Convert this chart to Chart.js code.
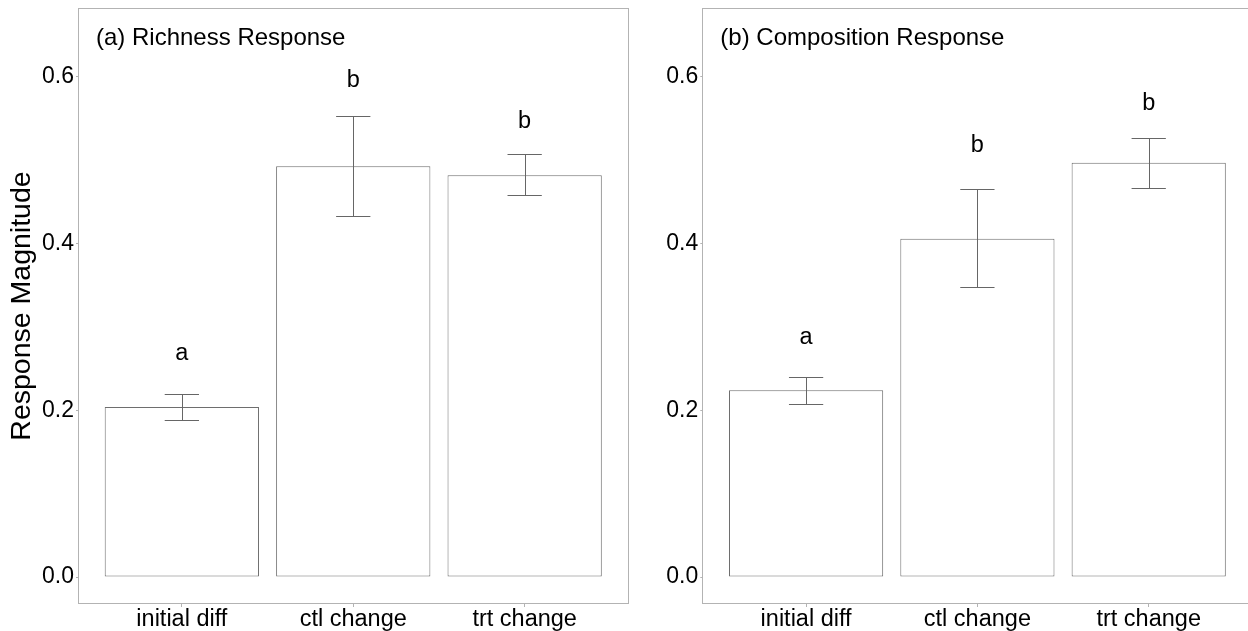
<!DOCTYPE html>
<html>
<head>
<meta charset="utf-8">
<script src="https://cdn.jsdelivr.net/npm/chart.js@4/dist/chart.umd.min.js"></script>
<style>
  html, body { margin: 0; padding: 0; background: #fff; overflow: hidden; width: 1248px; height: 631px; }
  canvas { position: absolute; top: 0; }
  #c1 { left: 0; }
  #c2 { left: 640px; }
</style>
</head>
<body>
<canvas id="c1" width="640" height="631"></canvas>
<canvas id="c2" width="620" height="631"></canvas>
<script>
// ---- data ----
const categories = ['initial diff', 'ctl change', 'trt change'];
const yTicks = [0, 0.2, 0.4, 0.6];

const richTitle = '(a) Richness Response';
const richMean = [0.204, 0.493, 0.482];
const richLow = [0.188, 0.433, 0.458];
const richHigh = [0.219, 0.553, 0.508];
const richLetters = ['a', 'b', 'b'];
const richLetterY = [0.268, 0.596, 0.547];

const compTitle = '(b) Composition Response';
const compMean = [0.224, 0.406, 0.497];
const compLow = [0.208, 0.348, 0.467];
const compHigh = [0.240, 0.465, 0.527];
const compLetters = ['a', 'b', 'b'];
const compLetterY = [0.287, 0.518, 0.568];

const yAxisTitle = 'Response Magnitude';

const FONT = "'Liberation Sans', Arial, sans-serif";
const BORDER = '#b3b3b3';

function makeChart(canvasId, cfg) {
  const annot = {
    id: 'annot',
    afterDatasetsDraw(chart) {
      const ctx = chart.ctx;
      const xs = chart.scales.x, ys = chart.scales.y;
      const a = chart.chartArea;
      ctx.save();
      // error bars
      ctx.strokeStyle = '#666666';
      ctx.lineWidth = 1;
      cfg.low.forEach((lo, i) => {
        const xc = Math.round(xs.getPixelForValue(i + 1)) + 0.5;
        const xl = xs.getPixelForValue(i + 0.9);
        const xr = xs.getPixelForValue(i + 1.1);
        const yl = Math.round(ys.getPixelForValue(lo)) + 0.5;
        const yh = Math.round(ys.getPixelForValue(cfg.high[i])) + 0.5;
        ctx.beginPath();
        ctx.moveTo(xc, yl); ctx.lineTo(xc, yh);
        ctx.moveTo(xl, yl); ctx.lineTo(xr, yl);
        ctx.moveTo(xl, yh); ctx.lineTo(xr, yh);
        ctx.stroke();
      });
      // letters
      ctx.fillStyle = '#000';
      ctx.font = '23.5px ' + FONT;
      ctx.textAlign = 'center';
      ctx.textBaseline = 'middle';
      cfg.letters.forEach((t, i) => {
        ctx.fillText(t, xs.getPixelForValue(i + 1), ys.getPixelForValue(cfg.letterY[i]));
      });
      // panel title
      ctx.font = '24px ' + FONT;
      ctx.textAlign = 'left';
      ctx.fillText(cfg.title, a.left + 17, a.top + 30);
      // panel border
      ctx.strokeStyle = BORDER;
      ctx.lineWidth = 1;
      ctx.strokeRect(Math.round(a.left) - 0.5, Math.round(a.top) + 0.5,
                     Math.round(a.right - a.left) + 1, Math.round(a.bottom - a.top) - 1);
      ctx.restore();
    }
  };

  return new Chart(document.getElementById(canvasId), {
    type: 'bar',
    data: {
      datasets: [{
        data: cfg.mean.map((v, i) => ({ x: i + 1, y: v })),
        backgroundColor: '#ffffff',
        borderColor: '#6e6e6e',
        borderWidth: 1,
        borderSkipped: false,
        barPercentage: 0.9,
        categoryPercentage: 1.0
      }]
    },
    options: {
      responsive: false,
      animation: false,
      devicePixelRatio: 1,
      layout: { padding: { top: 8, right: cfg.padRight, left: 0, bottom: 0 } },
      plugins: { legend: { display: false }, tooltip: { enabled: false } },
      scales: {
        x: {
          type: 'linear',
          min: 0.4, max: 3.6,
          offset: false,
          afterBuildTicks(s) { s.ticks = categories.map((c, i) => ({ value: i + 1 })); },
          afterFit(s) { s.height = 27; s.paddingLeft = 0; s.paddingRight = 0; },
          ticks: {
            callback: (v) => categories[Math.round(v) - 1],
            font: { family: FONT, size: 23.5, lineHeight: 1.0 },
            color: '#000',
            padding: 1,
            maxRotation: 0, autoSkip: false
          },
          grid: { offset: false, drawOnChartArea: false, drawTicks: true, tickLength: 3, color: BORDER },
          border: { display: false }
        },
        y: {
          type: 'linear',
          min: -0.0324, max: 0.6828,
          afterBuildTicks(s) { s.ticks = yTicks.map(v => ({ value: v })); },
          afterFit(s) { s.width = cfg.yWidth; s.paddingTop = 0; s.paddingBottom = 0; },
          ticks: {
            callback: (v) => v.toFixed(1),
            font: { family: FONT, size: 23 },
            color: '#000',
            padding: 2
          },
          grid: { drawOnChartArea: false, drawTicks: true, tickLength: 3, color: BORDER },
          border: { display: false },
          title: {
            display: cfg.showTitle,
            text: yAxisTitle,
            font: { family: FONT, size: 28.5 },
            color: '#000',
            padding: { top: 5, bottom: 0 }
          }
        }
      }
    },
    plugins: [annot]
  });
}

makeChart('c1', {
  title: richTitle, mean: richMean, low: richLow, high: richHigh,
  letters: richLetters, letterY: richLetterY,
  yWidth: 79, padRight: 12.5, showTitle: true
});
makeChart('c2', {
  title: compTitle, mean: compMean, low: compLow, high: compHigh,
  letters: compLetters, letterY: compLetterY,
  yWidth: 63.3, padRight: 8.5, showTitle: false
});
</script>
</body>
</html>
